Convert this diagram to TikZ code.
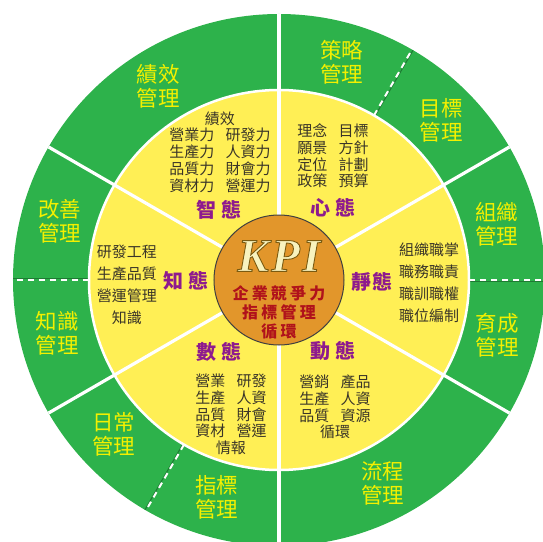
\documentclass[tikz,border=0pt]{standalone}
\usepackage{fontspec}
\newfontfamily\cjk{Noto Sans CJK TC}
\newfontfamily\cjkred[LetterSpace=20]{Noto Sans CJK TC}
\newfontfamily\kpifont{Liberation Serif}
\definecolor{ringgreen}{HTML}{2DB24B}
\definecolor{darkgreen}{HTML}{1E7A33}
\definecolor{discyellow}{HTML}{FFEF55}
\definecolor{labelyellow}{HTML}{F4F000}
\definecolor{kpiorange}{HTML}{E2962B}
\definecolor{statepurple}{HTML}{8E1A8E}
\definecolor{bodytext}{HTML}{3A3528}
\definecolor{kpired}{HTML}{B0121B}
\definecolor{kpigold}{HTML}{F8F3BE}
\newcommand\colgap{\hspace{0.75em}}
\newcommand\outlined[1]{\special{pdf:literal direct 2 Tr 0.9 w 0.478 0.353 0.063 RG}#1\special{pdf:literal direct 0 Tr}}
\tikzset{
  ringlabel/.style={align=center, text=labelyellow, inner sep=0,
    font=\cjk\fontsize{21.5}{24}\selectfont},
  bodyblock/.style={align=center, text=bodytext, inner sep=0,
    font=\cjk\fontsize{15}{16.8}\selectfont},
  wideblock/.style={align=center, text=bodytext, inner sep=0,
    font=\cjk\fontsize{15}{22}\selectfont},
  statelabel/.style={text=statepurple, inner sep=0,
    font=\cjk\bfseries\fontsize{20}{22}\selectfont},
  kpistyle/.style={inner sep=0, font=\kpifont\bfseries\itshape\fontsize{47}{47}\selectfont},
  redstyle/.style={align=center, inner sep=0, font=\cjkred\bfseries\fontsize{16}{19}\selectfont},
  solidspoke/.style={white, line width=3.2},
  dashspoke/.style={white, line width=2, dash pattern=on 6 off 5},
  dashshade/.style={darkgreen, line width=1},
}
\begin{document}
\begin{tikzpicture}[x=1pt,y=1pt]
\useasboundingbox (-279,-261) rectangle (264,280);
% outer green ring
\fill[ringgreen] (0,0) circle (266);
\foreach \a in {30,90,150,210,270,330}
  \draw[solidspoke] (0,0) -- (\a:266);
\foreach \a in {0,60,180,240}{
  \draw[dashshade] ([shift={(\a-90:1.2)}]\a:190) -- ([shift={(\a-90:1.2)}]\a:266);
  \draw[dashspoke] (\a:190) -- (\a:266);
}
% yellow disc
\filldraw[fill=discyellow, draw=white, line width=2.5] (0,0) circle (190);
\foreach \a in {30,90,150,210,270,330}
  \draw[solidspoke] (0,0) -- (\a:190);
% KPI disc
\filldraw[fill=kpiorange, draw=black!75, line width=1] (0,0) circle (65);

% ring labels
\node[ringlabel] (jixiao)  at (122:228) {績效\\管理};
\node[ringlabel] (celue)   at (74:227)  {策略\\管理};
\node[ringlabel] (mubiao)  at (44.6:228){目標\\管理};
\node[ringlabel] (zuzhi)   at (14.4:225){組織\\管理};
\node[ringlabel] (yucheng) at (-14.2:225){育成\\管理};
\node[ringlabel] (liucheng) at (-63:228){流程\\管理};
\node[ringlabel] (zhibiao) at (254:226) {指標\\管理};
\node[ringlabel] (richang) at (223:226) {日常\\管理};
\node[ringlabel] (zhishi)  at (193.5:228){知識\\管理};
\node[ringlabel] (gaishan) at (165:227) {改善\\管理};

% state labels
\node[statelabel] (zhitai)  at (-60,70)  {智\hspace{0.25em}態};
\node[statelabel] (xintai)  at (54,72)   {心\hspace{0.25em}態};
\node[statelabel] (jingtai) at (93,-2)   {靜\hspace{0.1em}態};
\node[statelabel] (zhitai2) at (-93,-1)  {知\hspace{0.25em}態};
\node[statelabel] (shutai)  at (-60,-72) {數\hspace{0.25em}態};
\node[statelabel] (dongtai) at (54,-71)  {動\hspace{0.25em}態};

% content blocks
\node[bodyblock] (zhiblock) at (-59,128) {績效\\營業力\colgap 研發力\\生產力\colgap 人資力\\品質力\colgap 財會力\\資材力\colgap 營運力};
\node[bodyblock] (xinblock) at (54,124) {理念\colgap 目標\\願景\colgap 方針\\定位\colgap 計劃\\政策\colgap 預算};
\node[wideblock] (jingblock) at (150,-3) {組織職掌\\職務職責\\職訓職權\\職位編制};
\node[wideblock] (zhi2block) at (-152,-5) {研發工程\\生產品質\\營運管理\\知識};
\node[bodyblock] (shublock) at (-48,-134.5) {營業\colgap 研發\\生產\colgap 人資\\品質\colgap 財會\\資材\colgap 營運\\情報};
\node[bodyblock] (dongblock) at (56,-127) {營銷\colgap 產品\\生產\colgap 人資\\品質\colgap 資源\\循環};

% KPI centre
\node[kpistyle, text=kpigold] (kpi) at (0,24) {\outlined{K\hspace{0.05em}P\hspace{0.05em}I}};
\node[redstyle, text=kpired] (kpisub) at (0,-32) {企業競爭力\\指標管理\\循環};
\end{tikzpicture}
\end{document}
